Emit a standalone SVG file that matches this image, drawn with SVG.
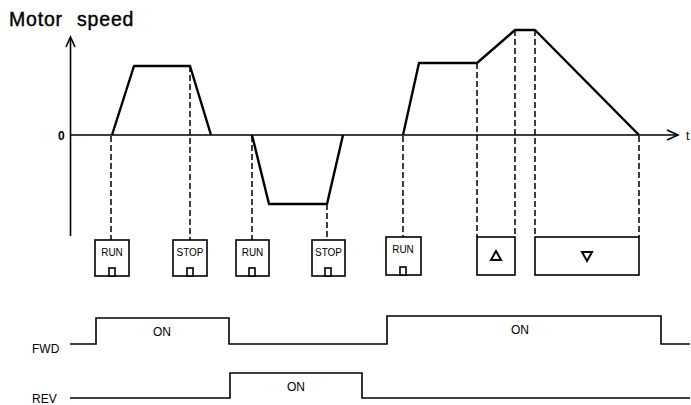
<svg xmlns="http://www.w3.org/2000/svg" width="691" height="405" viewBox="0 0 691 405">
<defs>
<style>
.ln{fill:none;stroke:#000;stroke-width:1.6}
.th{fill:none;stroke:#000;stroke-width:2.4;stroke-linejoin:round}
.ds{fill:none;stroke:#000;stroke-width:1.5;stroke-dasharray:6,3}
.bx{fill:#fff;stroke:#000;stroke-width:1.6}
.t{font-family:"Liberation Sans",Arial,sans-serif;fill:#000}
.lbl{font-size:12px}
.key{font-size:10px;text-anchor:middle}
.on{font-size:12px;text-anchor:middle}
</style>
</defs>
<rect width="691" height="405" fill="#fff"/>
<text class="t" x="9" y="26" font-size="19.5" letter-spacing="0.8" word-spacing="8" stroke="#000" stroke-width="0.4">Motor speed</text>
<g id="axes">
<line class="ln" x1="70.5" y1="38" x2="70.5" y2="236"/>
<polyline class="ln" points="66,47 70.5,37 75,47"/>
<line class="ln" x1="70" y1="135" x2="678" y2="135"/>
<polyline class="ln" points="667,130 678,135 667,140"/>
<text class="t lbl" x="58" y="140" font-weight="bold">0</text>
<text class="t lbl" x="686" y="140">t</text>
</g>
<g id="speed-curves">
<polyline class="th" points="112,135 134,66 190,66 211,135"/>
<polyline class="th" points="252,135 269,204 327,204 343,135"/>
<polyline class="th" points="403,135 419,63 477,63 515,30 535,30 639,135"/>
</g>
<g id="connectors">
<line class="ds" x1="111" y1="136" x2="111" y2="240"/>
<line class="ds" x1="190" y1="66" x2="190" y2="240"/>
<line class="ds" x1="252" y1="136" x2="252" y2="240"/>
<line class="ds" x1="327" y1="204" x2="327" y2="240"/>
<line class="ds" x1="403" y1="136" x2="403" y2="237"/>
<line class="ds" x1="477" y1="63" x2="477" y2="237"/>
<line class="ds" x1="515" y1="30" x2="515" y2="237"/>
<line class="ds" x1="535" y1="30" x2="535" y2="237"/>
<line class="ds" x1="639" y1="136" x2="639" y2="237"/>
</g>
<g id="key-run1">
<rect class="bx" x="95" y="240" width="34" height="36"/>
<text class="t key" x="112" y="256">RUN</text>
<rect class="bx" x="109" y="268" width="6" height="8"/>
</g>
<g id="key-stop1">
<rect class="bx" x="173" y="240" width="34" height="36"/>
<text class="t key" x="190" y="256">STOP</text>
<rect class="bx" x="187" y="268" width="6" height="8"/>
</g>
<g id="key-run2">
<rect class="bx" x="236" y="240" width="33" height="36"/>
<text class="t key" x="252.5" y="256">RUN</text>
<rect class="bx" x="249" y="268" width="6" height="8"/>
</g>
<g id="key-stop2">
<rect class="bx" x="312" y="240" width="33" height="36"/>
<text class="t key" x="328.5" y="256">STOP</text>
<rect class="bx" x="325" y="268" width="6" height="8"/>
</g>
<g id="key-run3">
<rect class="bx" x="386" y="237" width="35" height="38"/>
<text class="t key" x="403" y="253">RUN</text>
<rect class="bx" x="400" y="267" width="6" height="8"/>
</g>
<g id="key-up">
<rect class="bx" x="477" y="237" width="38" height="38"/>
<polygon points="496,251 491,260 501,260" fill="none" stroke="#000" stroke-width="2"/>
</g>
<g id="key-down">
<rect class="bx" x="535" y="237" width="104" height="38"/>
<polygon points="582,252 592,252 587,261" fill="none" stroke="#000" stroke-width="2"/>
</g>
<g id="fwd">
<text class="t lbl" x="32" y="353">FWD</text>
<polyline class="ln" points="70,344 96,344 96,318 229,318 229,344 387,344 387,316 661,316 661,344 690,344"/>
<text class="t on" x="162" y="336">ON</text>
<text class="t on" x="520" y="334">ON</text>
</g>
<g id="rev">
<text class="t lbl" x="32" y="403">REV</text>
<polyline class="ln" points="70,398 230,398 230,373 362,373 362,398 690,398"/>
<text class="t on" x="296" y="391">ON</text>
</g>
</svg>
